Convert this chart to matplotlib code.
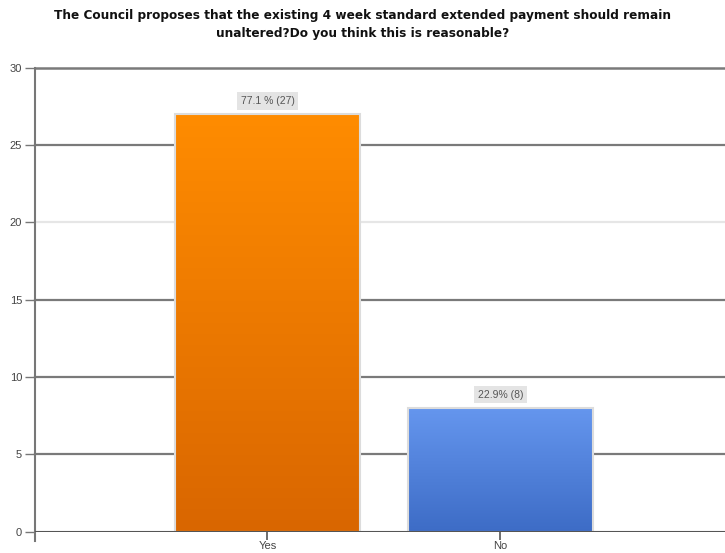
import numpy as np
import matplotlib
matplotlib.use("Agg")
from matplotlib import pyplot as plt
from matplotlib.colors import LinearSegmentedColormap

# Data
categories = ["Yes", "No"]
counts = [27, 8]
percents = [77.1, 22.9]
bar_labels = ["77.1 % (27)", "22.9% (8)"]
y_ticks = [0, 5, 10, 15, 20, 25, 30]

title = ("The Council proposes that the existing 4 week standard extended payment should remain\n"
         "unaltered?Do you think this is reasonable?")

# colours (top of bar, bottom of bar)
gradients = [("#ff8c00", "#d96600"), ("#6596ee", "#3d6cc6")]

plt.rcParams['font.family'] = ['Liberation Sans', 'DejaVu Sans']

W, H = 725, 553
fig = plt.figure(figsize=(W / 100, H / 100), dpi=100)

# axes box in pixels: left 34.5, right 725, top 67.7, bottom 531.7
ax = fig.add_axes([34.5 / W, (H - 531.7) / H, 1 - 34.5 / W, (531.7 - 67.7) / H])
ax.set_xlim(-1.0, 1.964)
ax.set_ylim(0, 30)

# gridlines
for v in y_ticks[1:]:
    col = "#e6e6e6" if v == 20 else "#7a7a7a"
    ax.axhline(v, color=col, lw=1.8 if v == 30 else 1.6, zorder=1, clip_on=False)

x = np.arange(len(categories))
bars = ax.bar(x, counts, width=0.795, color="none", edgecolor="#dcdcdc", lw=1.5, zorder=3)

grad = np.linspace(0, 1, 256).reshape(-1, 1)
for b, (top, bot) in zip(bars, gradients):
    cmap = LinearSegmentedColormap.from_list("g", [bot, top])
    x0, w, h = b.get_x(), b.get_width(), b.get_height()
    ax.imshow(grad, cmap=cmap, origin="lower", aspect="auto",
              extent=(x0, x0 + w, 0, h), zorder=2)

for xi, c, lab in zip(x, counts, bar_labels):
    ax.annotate(lab, (xi, c), xytext=(0, 9.5), textcoords="offset points",
                ha="center", va="center", fontsize=7.5, color="#555555",
                bbox=dict(boxstyle="square,pad=0.35", fc="#e4e4e4", ec="none"),
                zorder=4)

ax.axhline(0, color="#555555", lw=1.5, zorder=4)

for s in ["top", "right", "bottom"]:
    ax.spines[s].set_visible(False)
ax.spines["left"].set_color("#777777")
ax.spines["left"].set_linewidth(1.5)
ax.spines["left"].set_bounds(-0.6, 30)

ax.set_yticks(y_ticks)
ax.set_yticklabels([str(v) for v in y_ticks])
ax.set_xticks(x)
ax.set_xticklabels(categories)
ax.tick_params(axis="y", length=7, width=1, color="#777777", labelsize=8,
               labelcolor="#444444", pad=2)
ax.tick_params(axis="x", length=6, width=1.2, color="#555555", labelsize=8,
               labelcolor="#444444", pad=1)

fig.text(0.500, 1 - 24 / H, title, ha="center", va="center", fontsize=8.75,
         fontweight="bold", color="#111111", linespacing=1.5,
         family=["DejaVu Sans"])

fig.savefig("out.png", dpi=100)
